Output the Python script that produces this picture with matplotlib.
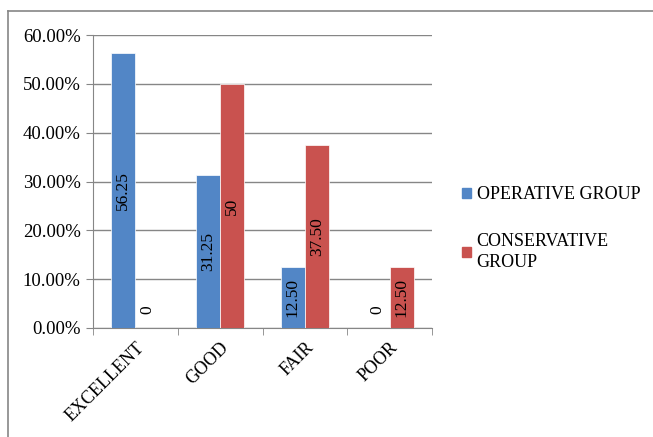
import numpy as np
import matplotlib.pyplot as plt
from matplotlib.lines import Line2D
from matplotlib.ticker import FuncFormatter

categories = ["EXCELLENT", "GOOD", "FAIR", "POOR"]
operative = [56.25, 31.25, 12.50, 0]
conservative = [0, 50, 37.50, 12.50]
operative_labels = ["56.25", "31.25", "12.50", "0"]
conservative_labels = ["0", "50", "37.50", "12.50"]
series_names = ["OPERATIVE GROUP", "CONSERVATIVE\nGROUP"]

plt.rcParams['font.family'] = ['Liberation Serif', 'DejaVu Serif']

BLUE = "#5286C6"
RED = "#C9524F"
GRID = "#868686"

fig = plt.figure(figsize=(6.53, 4.37), dpi=100)
ax = fig.add_axes([93 / 653, 1 - 328 / 437, (432 - 93) / 653, (328 - 35) / 437])

x = np.arange(len(categories))
w = 0.285
b1 = ax.bar(x - w / 2, operative, w, color=BLUE, edgecolor="white", linewidth=0.5, zorder=3)
b2 = ax.bar(x + w / 2, conservative, w, color=RED, edgecolor="white", linewidth=0.5, zorder=3)

for bars, labels in ((b1, operative_labels), (b2, conservative_labels)):
    for rect, lab in zip(bars, labels):
        h = rect.get_height()
        y = max(h / 2, 3.7)
        ax.text(rect.get_x() + rect.get_width() / 2, y, lab, rotation=90,
                ha="center", va="center", fontsize=12.5, color="black", zorder=4)

ax.set_xlim(-0.5, len(categories) - 0.5)
ax.set_ylim(0, 60)
ax.set_yticks(np.arange(0, 61, 10))
ax.yaxis.set_major_formatter(FuncFormatter(lambda v, p: f"{v:.2f}%"))
ax.yaxis.grid(True, color=GRID, linewidth=1, zorder=0)
ax.set_axisbelow(True)

ax.set_xticks(x)
ax.set_xticklabels(categories, rotation=45, ha="right", rotation_mode="anchor", fontsize=13)
ax.set_xticks(np.arange(-0.5, len(categories)), minor=True)
ax.tick_params(axis="x", which="major", length=0, pad=8)
ax.tick_params(axis="x", which="minor", length=5, color=GRID)
ax.tick_params(axis="y", length=5, color=GRID, labelsize=13.5, pad=4)

for s in ("top", "right"):
    ax.spines[s].set_visible(False)
for s in ("left", "bottom"):
    ax.spines[s].set_color(GRID)

handles = [plt.Rectangle((0, 0), 1, 1, color=BLUE), plt.Rectangle((0, 0), 1, 1, color=RED)]
leg = fig.legend(handles, series_names, loc="upper left", bbox_to_anchor=(446 / 653, 1 - 170 / 437),
                 frameon=False, fontsize=13, handlelength=0.5, handleheight=0.5,
                 handletextpad=0.3, labelspacing=1.65)
for t in leg.get_texts():
    t.set_linespacing(1.3)

# outer chart border (cropped)
fig.add_artist(Line2D([8 / 653, 8 / 653], [0, 1 - 11 / 437], transform=fig.transFigure,
                      color=GRID, linewidth=1.2))
fig.add_artist(Line2D([8 / 653, 1], [1 - 11 / 437, 1 - 11 / 437], transform=fig.transFigure,
                      color=GRID, linewidth=1.2))

fig.savefig("out.png", dpi=100)
